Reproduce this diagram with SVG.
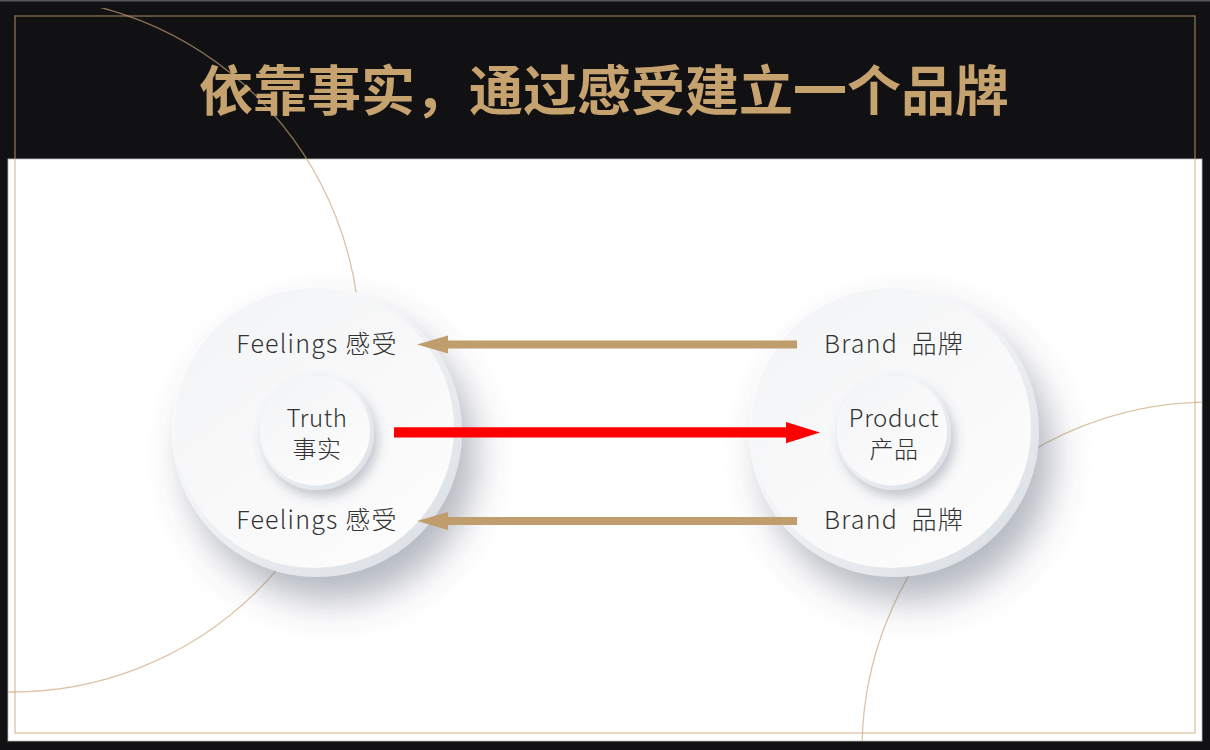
<svg xmlns="http://www.w3.org/2000/svg" width="1210" height="750" viewBox="0 0 1210 750">
<defs>
<style>
.lbl{font-family:"Noto Sans CJK SC","Noto Sans",sans-serif;font-weight:300;font-size:25px;letter-spacing:1.2px;fill:#333;text-anchor:middle}
.inner{font-size:24px;letter-spacing:0.6px}
.title{font-family:"Noto Sans CJK SC","Noto Sans",sans-serif;font-weight:700;font-size:54px;fill:#c5a26e;text-anchor:middle}
.deco{fill:none;stroke:#c9a676;stroke-opacity:0.66;stroke-width:1.3}
.gold{fill:#bf9d6c}
.red{fill:#ff0000}
</style>
<linearGradient id="rim" x1="0.15" y1="0.1" x2="0.85" y2="0.9">
<stop offset="0" stop-color="#ffffff"/>
<stop offset="1" stop-color="#dde1e6"/>
</linearGradient>
<linearGradient id="face" x1="0.2" y1="0.1" x2="0.8" y2="0.9">
<stop offset="0" stop-color="#f4f5f6"/>
<stop offset="1" stop-color="#fcfcfd"/>
</linearGradient>
<filter id="shBig" x="-40%" y="-40%" width="190%" height="190%">
<feDropShadow dx="14" dy="24" stdDeviation="18" flood-color="#50586a" flood-opacity="0.42"/>
</filter>
<filter id="shSmall" x="-40%" y="-40%" width="190%" height="190%">
<feDropShadow dx="4" dy="7" stdDeviation="6" flood-color="#50586a" flood-opacity="0.32"/>
</filter>
<clipPath id="slide"><rect x="8" y="8" width="1194" height="733"/></clipPath>
</defs>
<rect x="0" y="0" width="1210" height="750" fill="#111113"/>
<rect x="0" y="0" width="1210" height="1.5" fill="#555"/>
<rect x="8" y="159" width="1194" height="582" fill="#ffffff" stroke="#bbbbbb" stroke-width="0.8"/>
<text class="title" x="604" y="111">依靠事实，通过感受建立一个品牌</text>
<rect class="deco" x="15" y="16" width="1180" height="717" stroke-width="1.6"/>
<g clip-path="url(#slide)">
<circle class="deco" cx="12" cy="344" r="348"/>
<circle class="deco" cx="1210" cy="750" r="348"/>
</g>
<g id="node-truth">
<circle cx="317" cy="432" r="145" fill="url(#rim)" filter="url(#shBig)"/>
<circle cx="314" cy="428" r="140" fill="url(#face)"/>
<circle cx="317" cy="433" r="57" fill="url(#rim)" filter="url(#shSmall)"/>
<circle cx="315.5" cy="431" r="54.5" fill="url(#face)"/>
<text class="lbl" x="317" y="353">Feelings 感受</text>
<text class="lbl inner"><tspan x="317" y="427">Truth</tspan><tspan x="317" y="458">事实</tspan></text>
<text class="lbl" x="317" y="529">Feelings 感受</text>
</g>
<g id="node-product">
<circle cx="894" cy="432" r="145" fill="url(#rim)" filter="url(#shBig)"/>
<circle cx="891" cy="428" r="140" fill="url(#face)"/>
<circle cx="894" cy="433" r="57" fill="url(#rim)" filter="url(#shSmall)"/>
<circle cx="892.5" cy="431" r="54.5" fill="url(#face)"/>
<text class="lbl" x="894" y="353">Brand&#160; 品牌</text>
<text class="lbl inner"><tspan x="894" y="427">Product</tspan><tspan x="894" y="458">产品</tspan></text>
<text class="lbl" x="894" y="529">Brand&#160; 品牌</text>
</g>
<g id="connectors">
<path class="gold" d="M797 340.5 L448 340.5 L448 335.5 L417 344.5 L448 353.5 L448 348.5 L797 348.5 Z"/>
<path class="gold" d="M797 517 L448 517 L448 512 L417 521 L448 530 L448 525 L797 525 Z"/>
<path class="red" d="M394 427.3 L786 427.3 L786 422 L820 432.5 L786 443.3 L786 437.5 L394 437.5 Z"/>
</g>
</svg>
